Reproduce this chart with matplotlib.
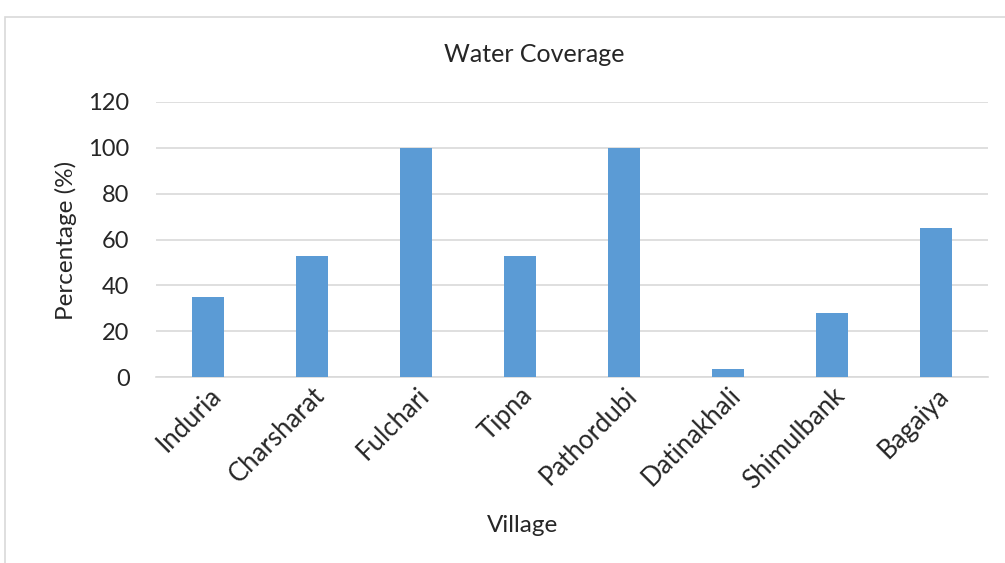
import matplotlib.pyplot as plt
from matplotlib.patches import Rectangle

plt.rcParams['font.family'] = ['Lato', 'DejaVu Sans']

villages = ['Induria', 'Charsharat', 'Fulchari', 'Tipna', 'Pathordubi',
            'Datinakhali', 'Shimulbank', 'Bagaiya']
coverage = [35, 53, 100, 53, 100, 3.7, 27.8, 64.8]
y_ticks = [0, 20, 40, 60, 80, 100, 120]

W, H = 1005, 563
fig = plt.figure(figsize=(W / 100, H / 100), dpi=100)

# chart frame (light grey border running off the right/bottom edges)
fig.patches.append(Rectangle((5 / W, -0.1), 1.2, 1 - 17 / H + 0.1,
                             transform=fig.transFigure, fill=False,
                             edgecolor='#d9d9d9', linewidth=1.2))

ax = fig.add_axes([156 / W, 1 - 377.3 / H, (988 - 156) / W, (377.3 - 101.7) / H])
x = range(len(villages))
ax.bar(x, coverage, width=0.31, color='#5b9bd5', zorder=3)

ax.set_xlim(-0.5, len(villages) - 0.5)
ax.set_ylim(0, 120)
ax.set_yticks(y_ticks)
ax.yaxis.grid(True, color='#d9d9d9', linewidth=1.2)
ax.set_axisbelow(True)
for side in ['top', 'right', 'left']:
    ax.spines[side].set_visible(False)
ax.spines['bottom'].set_color('#d9d9d9')
ax.spines['bottom'].set_linewidth(1.2)
ax.tick_params(axis='y', length=0, labelsize=17, colors='#262626', pad=19)
ax.set_xticks(list(x))
ax.set_xticklabels(villages, rotation=45, ha='right', rotation_mode='anchor')
ax.tick_params(axis='x', length=0, labelsize=18.5, colors='#262626', pad=4)

fig.text(66 / W, 1 - 240 / H, 'Percentage (%)', rotation=90, ha='center',
         va='center', fontsize=17.5, color='#262626')
fig.text(523 / W, 1 - 525 / H, 'Village', ha='center', va='center',
         fontsize=17.5, color='#262626')
fig.text(534 / W, 1 - 55 / H, 'Water Coverage', ha='center', va='center',
         fontsize=18, color='#262626')

fig.savefig('out.png', dpi=100)
